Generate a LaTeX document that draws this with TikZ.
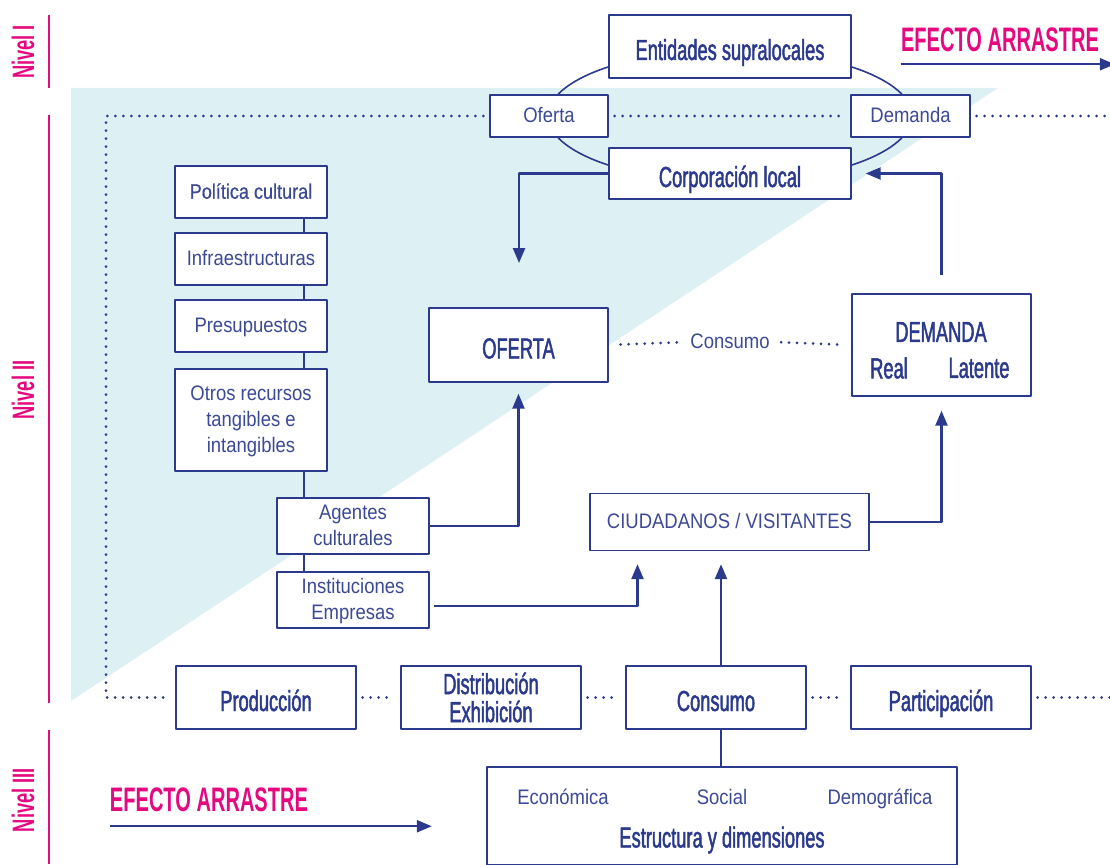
\documentclass[tikz,border=0pt]{standalone}
\usepackage{fontspec}
\setmainfont{Liberation Sans}[FakeStretch=0.88]
\newfontfamily\medfont{Liberation Sans}[FakeStretch=0.86,FakeBold=0.7]
\newfontfamily\headfont{Liberation Sans}[FakeStretch=0.63,FakeBold=1.6]
\newfontfamily\pinkfont{Liberation Sans}[FakeStretch=0.59]
\usetikzlibrary{arrows.meta}
\definecolor{azul}{HTML}{2B3A8C}
\definecolor{rosa}{HTML}{E5097F}
\definecolor{celeste}{HTML}{DDF0F4}
\begin{document}
\begin{tikzpicture}[x=1pt,y=-1pt,line join=round,>={Triangle[length=15pt,width=12pt]},
    caja/.style={draw=azul,line width=1.4pt,fill=white,text=azul,inner sep=0pt,align=center},
    fina/.style={text=azul!92,font=\fontsize{21}{26}\selectfont,align=center,text depth=2pt},
    gruesa/.style={text=azul,font=\headfont\fontsize{29}{28}\selectfont,align=center},
    titulo/.style={gruesa,text height=27pt,text depth=0pt},
    nivel/.style={text=rosa,font=\pinkfont\bfseries\fontsize{31}{31}\selectfont,rotate=90},
    efecto/.style={text=rosa,inner sep=0pt,font=\pinkfont\bfseries\fontsize{34}{34}\selectfont},
    enlace/.style={draw=azul,line width=2.4pt},
    flecha/.style={enlace,->},
    puntos/.style={draw=azul,line width=3pt,line cap=round,dash pattern=on 0pt off 8pt,
      shorten <=6pt,shorten >=6pt}]
  \useasboundingbox (0,0) rectangle (1110,864);
  \fill[celeste] (71,88) -- (998,88) -- (71,701) -- cycle;
  \draw[rosa,line width=2pt] (49,15) -- (49,88);
  \draw[rosa,line width=2pt] (49,115) -- (49,703);
  \draw[rosa,line width=2pt] (49,730) -- (49,864);
  \node[nivel] (nivel1) at (23,52) {Nivel I};
  \node[nivel] (nivel2) at (23,390) {Nivel II};
  \node[nivel] (nivel3) at (23,800) {Nivel III};

  \draw[azul,line width=1.6pt] (730,116) ellipse [x radius=182,y radius=66];
  \node[caja,titulo,minimum width=242,minimum height=63] (entidades) at (730,46.5) {Entidades supralocales};
  \node[caja,fina,minimum width=118,minimum height=42] (ofe) at (549,116) {Oferta};
  \node[caja,fina,minimum width=119,minimum height=42] (dem) at (910.5,116) {Demanda};
  \node[caja,titulo,minimum width=242,minimum height=51] (corporacion) at (730,173.5) {Corporación local};

  \node[caja,fina,font=\medfont\fontsize{21}{26}\selectfont,minimum width=152,minimum height=52] (politica) at (251,192) {Política cultural};
  \node[caja,fina,minimum width=152,minimum height=52] (infra) at (251,259) {Infraestructuras};
  \node[caja,fina,minimum width=152,minimum height=52] (presu) at (251,326) {Presupuestos};
  \node[caja,fina,minimum width=152,minimum height=102] (otros) at (251,420) {Otros recursos\\tangibles e\\intangibles};
  \node[caja,fina,minimum width=152,minimum height=56] (agentes) at (353,526) {Agentes\\culturales};
  \node[caja,fina,minimum width=152,minimum height=56] (instit) at (353,600) {Instituciones\\Empresas};

  \node[caja,titulo,minimum width=179,minimum height=74] (oferta) at (518.5,345) {OFERTA};
  \node[caja,minimum width=179,minimum height=102] (demanda) at (941.5,345) {};
  \node[gruesa] (demtit) at (941,332) {DEMANDA};
  \node[gruesa] (real) at (889,368) {Real};
  \node[gruesa] (latente) at (979,368) {Latente};
  \node[fina] (consumolbl) at (730,342) {Consumo};
  \node[caja,fina,minimum width=279,minimum height=57] (ciudadanos) at (729.5,522) {CIUDADANOS / VISITANTES};

  \node[caja,titulo,minimum width=180,minimum height=63] (produccion) at (266,697.5) {Producción};
  \node[caja,gruesa,minimum width=180,minimum height=63] (distribucion) at (491,697.5) {Distribución\\Exhibición};
  \node[caja,titulo,minimum width=180,minimum height=63] (consumo) at (716,697.5) {Consumo};
  \node[caja,titulo,minimum width=180,minimum height=63] (participacion) at (941,697.5) {Participación};

  \node[caja,minimum width=470,minimum height=98] (estructura) at (722,816) {};
  \node[fina] (economica) at (563,798) {Económica};
  \node[fina] (social) at (722,798) {Social};
  \node[fina] (demografica) at (880,798) {Demográfica};
  \node[gruesa] (estrtit) at (722,840) {Estructura y dimensiones};

  \node[efecto] (efarriba) at (1000,40) {EFECTO ARRASTRE};
  \node[efecto] (efabajo) at (209,800) {EFECTO ARRASTRE};
  \draw[flecha] ([yshift=-12pt]efarriba.south west) -- ++(214,0);
  \draw[flecha] ([yshift=-14pt]efabajo.south west) -- ++(322,0);

  \coordinate (esq) at (106,0);
  \coordinate (borde) at (1116,0);
  \draw[puntos] (ofe.west) -| (esq |- produccion.west) -- (produccion.west);
  \draw[puntos] (ofe.east) -- (dem.west);
  \draw[puntos] (dem.east) -- (dem.east -| borde);
  \foreach \a/\b in {produccion/distribucion,distribucion/consumo,consumo/participacion}
    \draw[puntos] (\a.east) -- (\b.west);
  \draw[puntos] (participacion.east) -- (participacion.east -| borde);
  \draw[puntos,shorten <=12pt,shorten >=8pt] (oferta.east) -- (consumolbl.west);
  \draw[puntos,shorten <=8pt,shorten >=12pt] (consumolbl.east) -- (demanda.west);

  \coordinate (eje) at (304,0);
  \foreach \a/\b in {politica/infra,infra/presu,presu/otros,otros/agentes,agentes/instit}
    \draw[enlace] (\a.south -| eje) -- (\b.north -| eje);

  \coordinate (bajada) at (519,263);
  \coordinate (axis) at (721,0);
  \draw[flecha] (corporacion.west) -| (bajada);
  \draw[flecha] (agentes.east) -| ([yshift=-11pt]oferta.south);
  \draw[flecha] ([shift={(4pt,-6pt)}]instit.east) -| ([xshift=-92pt,yshift=-13pt]ciudadanos.south);
  \draw[flecha] (consumo.north -| axis) -- ([yshift=-13pt]ciudadanos.south -| axis);
  \draw[enlace] (consumo.south -| axis) -- (estructura.north -| axis);
  \draw[flecha] (ciudadanos.east) -| ([yshift=-14pt]demanda.south);
  \draw[flecha] ([yshift=18pt]demanda.north) |- ([xshift=14pt]corporacion.east);
\end{tikzpicture}
\end{document}
